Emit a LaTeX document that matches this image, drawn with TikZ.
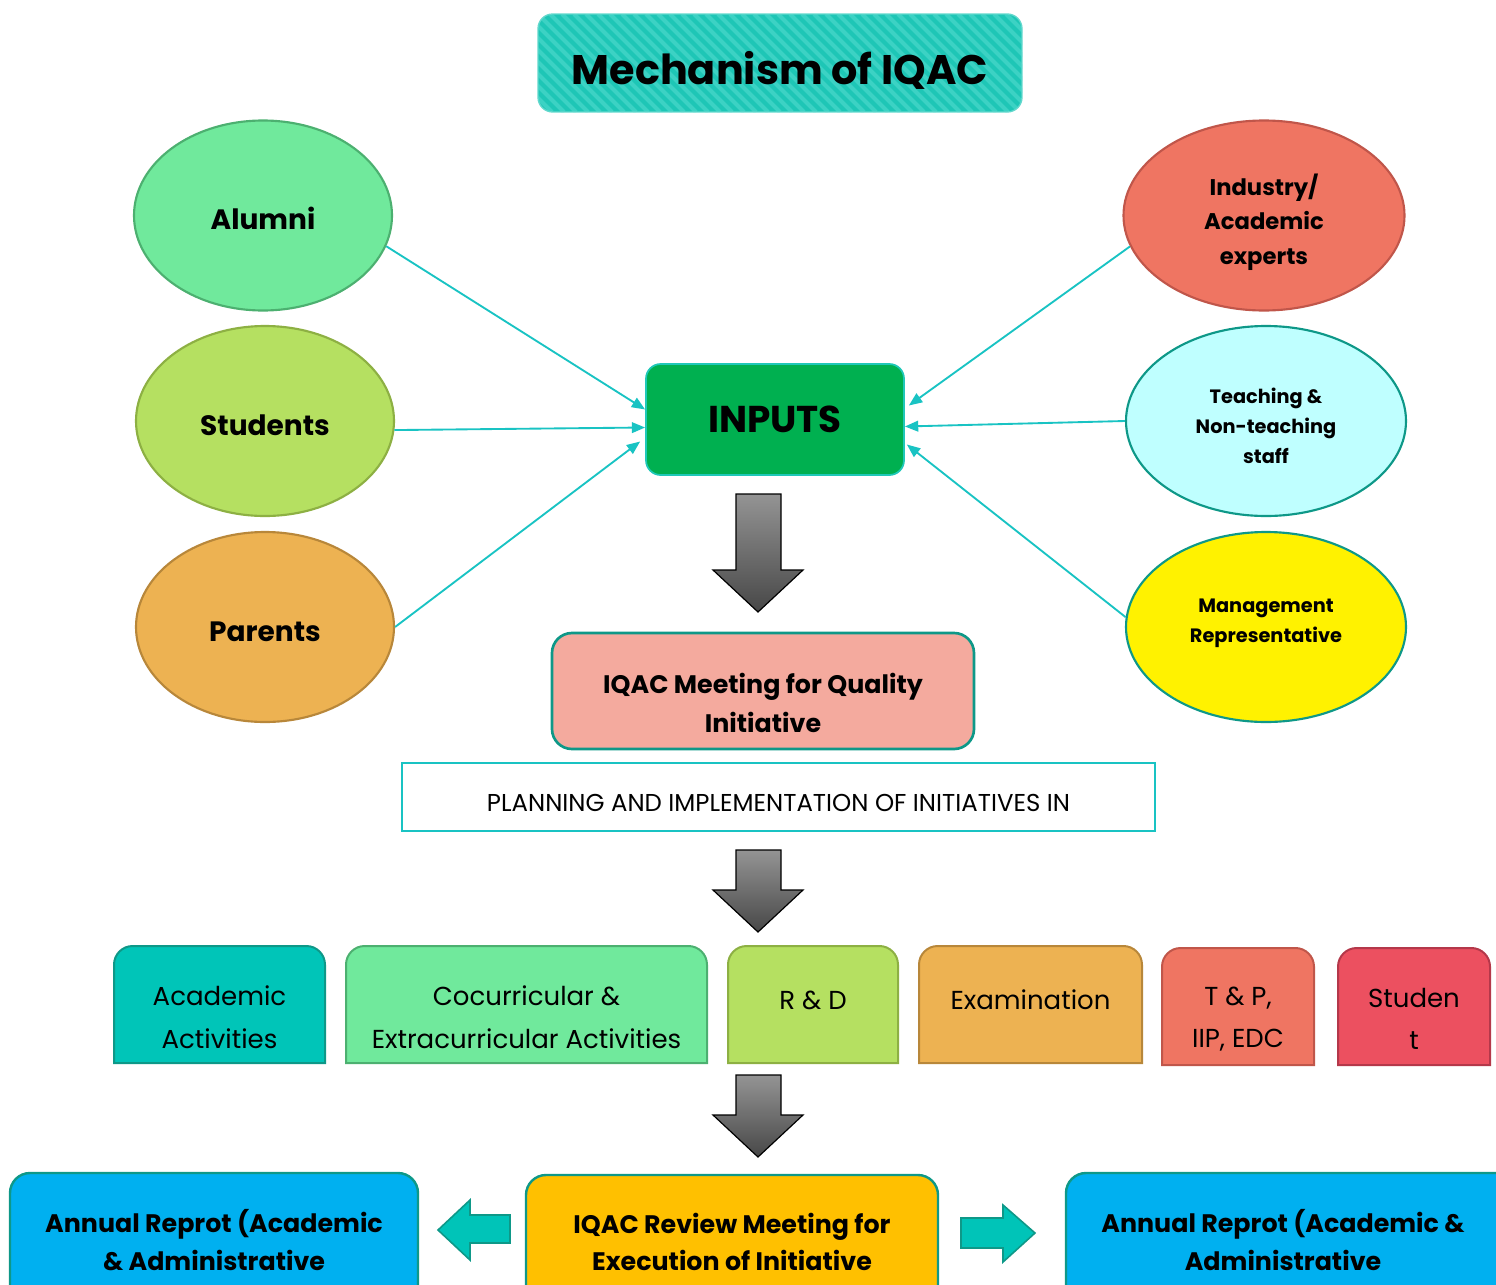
\documentclass[tikz,border=0pt]{standalone}
\usepackage{fontspec}
\setmainfont{Poppins}
\usetikzlibrary{shapes.geometric,arrows.meta,calc}
\definecolor{cline}{HTML}{19C3C3}
\definecolor{tealb}{HTML}{0E9888}
\definecolor{titlef}{HTML}{1EC6B6}
\definecolor{titles}{HTML}{3CD2C4}
\definecolor{alumf}{HTML}{70E99C}\definecolor{alumb}{HTML}{4CB070}
\definecolor{studf}{HTML}{B5E061}\definecolor{studb}{HTML}{8DB043}
\definecolor{parf}{HTML}{EDB252}\definecolor{parb}{HTML}{B8873A}
\definecolor{indf}{HTML}{EF7562}\definecolor{indb}{HTML}{C0564A}
\definecolor{teaf}{HTML}{BFFFFF}
\definecolor{inpf}{HTML}{00B050}\definecolor{inpb}{HTML}{1FC8B8}
\definecolor{meetf}{HTML}{F4AA9E}
\definecolor{acaf}{HTML}{00C5B8}
\definecolor{redf}{HTML}{EC5060}\definecolor{redb}{HTML}{B4384A}
\definecolor{annf}{HTML}{00B0F0}
\definecolor{revf}{HTML}{FFC000}
\definecolor{barf}{HTML}{00C4B8}
\begin{document}
\begin{tikzpicture}[x=0.75pt,y=-0.75pt,
  oval/.style={ellipse,line width=1.6pt,inner sep=0pt,minimum height=142.5pt},
  bigtxt/.style={font=\bfseries\fontsize{21}{26}\selectfont},
  conn/.style={cline,line width=1.4pt,-{Triangle[length=10pt,width=8pt]}},
  grayarrow/.style={draw=black,line width=0.9pt,top color=black!42,bottom color=black!72},
  bararrow/.style={draw=tealb,line width=1.2pt,fill=barf},
  rowtxt/.style={align=center,font=\fontsize{19.5}{32}\selectfont},
  bottxt/.style={align=center,font=\bfseries\fontsize{19}{28}\selectfont},
  rowbox/.style={line width=1.5pt}]
\useasboundingbox (0,0) rectangle (1496,1285);
\clip (0,0) rectangle (1496,1285);

% title
\begin{scope}
\clip[rounded corners=11pt] (538,14) rectangle (1022,112);
\fill[titlef] (538,14) rectangle (1022,112);
\foreach \i in {-120,-108,...,500} {
  \draw[titles,line width=3pt] (538+\i,14) -- (538+\i+98,112);
}
\end{scope}
\draw[inpb!70!white,line width=1pt,rounded corners=11pt] (538,14) rectangle (1022,112);
\node (title) at (780,70) {\bfseries\fontsize{31}{36}\selectfont Mechanism of IQAC};

% ellipses
\node[oval,fill=alumf,draw=alumb,minimum width=193.5pt] (alumni) at (263,215.5) {};
\node[bigtxt] (alumnitxt) at (263,218) {Alumni};
\node[oval,fill=studf,draw=studb,minimum width=193.5pt] (students) at (265,421) {};
\node[bigtxt] (studentstxt) at (265,425) {Students};
\node[oval,fill=parf,draw=parb,minimum width=193.5pt] (parents) at (265,627) {};
\node[bigtxt] (parentstxt) at (265,632) {Parents};
\node[oval,fill=indf,draw=indb,minimum width=210.75pt] (industry) at (1264,215.5) {};
\node[align=center,font=\bfseries\fontsize{17}{26}\selectfont] (industrytxt) at (1264,222) {Industry/\\Academic\\experts};
\node[oval,fill=teaf,draw=tealb,minimum width=210pt] (teaching) at (1266,421) {};
\node[align=center,font=\bfseries\fontsize{14.5}{22.5}\selectfont] (teachingtxt) at (1266,426) {Teaching \&\\Non-teaching\\staff};
\node[oval,fill=yellow,draw=tealb,minimum width=210pt] (mgmt) at (1266,627) {};
\node[align=center,font=\bfseries\fontsize{14.5}{22.5}\selectfont] (mgmttxt) at (1266,623) {Management\\Representative};

% inputs
\node[draw=inpb,fill=inpf,line width=1.3pt,rounded corners=11pt,minimum width=193.5pt,minimum height=83.25pt,font=\bfseries\fontsize{28}{34}\selectfont] (inputs) at (775,419.5) {INPUTS};

\draw[conn] (alumni.-14) -- ($(inputs.west)+(0,-10)$);
\draw[conn] (students.-4) -- ($(inputs.west)+(0,8)$);
\draw[conn] (parents.east) -- ($(inputs.west)+(-5,22)$);
\draw[conn] (industry.193) -- ($(inputs.east)+(4,-14)$);
\draw[conn] (teaching.west) -- ($(inputs.east)+(0,7)$);
\draw[conn] (mgmt.176) -- ($(inputs.east)+(2,25)$);

% gray arrows
\foreach \t/\s/\b in {494/570/612, 850/890/932, 1075/1115/1157} {
  \path[grayarrow] (736,\t) -- (781,\t) -- (781,\s) -- (803,\s) -- (758,\b) -- (713,\s) -- (736,\s) -- cycle;
}

% meeting
\node[draw=tealb,fill=meetf,line width=2pt,rounded corners=15pt,minimum width=316.5pt,minimum height=87pt] (meeting) at (763,691) {};
\node[align=center,font=\bfseries\fontsize{19}{29}\selectfont] (meetingtxt) at (763,703) {IQAC Meeting for Quality\\Initiative};

% planning
\node[draw=cline,line width=2pt,minimum width=564.75pt,minimum height=51pt] (planning) at (778.5,797) {};
\node[font=\fontsize{18.3}{20}\selectfont] (planningtxt) at (778.5,803) {PLANNING AND IMPLEMENTATION OF INITIATIVES IN};

% row boxes
\path[rowbox,fill=acaf,draw=tealb] (114,1063) [rounded corners=14pt]-- (114,946) -- (325,946) [sharp corners]-- (325,1063) -- cycle;
\node[rowtxt] (academic) at (219.5,1017) {Academic\\Activities};
\path[rowbox,fill=alumf,draw=alumb] (346,1063) [rounded corners=14pt]-- (346,946) -- (707,946) [sharp corners]-- (707,1063) -- cycle;
\node[rowtxt] (cocurr) at (526.5,1017) {Cocurricular \&\\Extracurricular Activities};
\path[rowbox,fill=studf,draw=studb] (728,1063) [rounded corners=14pt]-- (728,946) -- (898,946) [sharp corners]-- (898,1063) -- cycle;
\node[rowtxt] (rnd) at (813,1000) {R \& D};
\path[rowbox,fill=parf,draw=parb] (919,1063) [rounded corners=14pt]-- (919,946) -- (1142,946) [sharp corners]-- (1142,1063) -- cycle;
\node[rowtxt] (exam) at (1030.5,1000) {Examination};
\path[rowbox,fill=indf,draw=indb] (1162,1065) [rounded corners=14pt]-- (1162,948) -- (1314,948) [sharp corners]-- (1314,1065) -- cycle;
\node[rowtxt] (tnp) at (1238,1019) {T \& P,\\IIP, EDC};
\path[rowbox,fill=redf,draw=redb] (1338,1065) [rounded corners=14pt]-- (1338,948) -- (1490,948) [sharp corners]-- (1490,1065) -- cycle;
\node[rowtxt] (student) at (1414,1019) {Studen\\t};

% bottom boxes
\draw[tealb,fill=annf,line width=1.8pt,rounded corners=15pt] (10,1173) rectangle (418,1320);
\node[bottxt] (annL) at (214,1240) {Annual Reprot (Academic\\\& Administrative};
\draw[tealb,fill=revf,line width=1.8pt,rounded corners=15pt] (526,1175) rectangle (938,1320);
\node[bottxt] (review) at (732,1242) {IQAC Review Meeting for\\Execution of Initiative};
\draw[tealb,fill=annf,line width=1.8pt,rounded corners=15pt] (1066,1173) rectangle (1530,1320);
\node[bottxt] (annR) at (1283,1240) {Annual Reprot (Academic \&\\Administrative};

% block arrows
\path[bararrow] (510,1215) -- (470,1215) -- (470,1200) -- (438,1230) -- (470,1260) -- (470,1243) -- (510,1243) -- cycle;
\path[bararrow] (961,1218) -- (1003,1218) -- (1003,1205) -- (1035,1233) -- (1003,1262) -- (1003,1248) -- (961,1248) -- cycle;
\end{tikzpicture}
\end{document}
